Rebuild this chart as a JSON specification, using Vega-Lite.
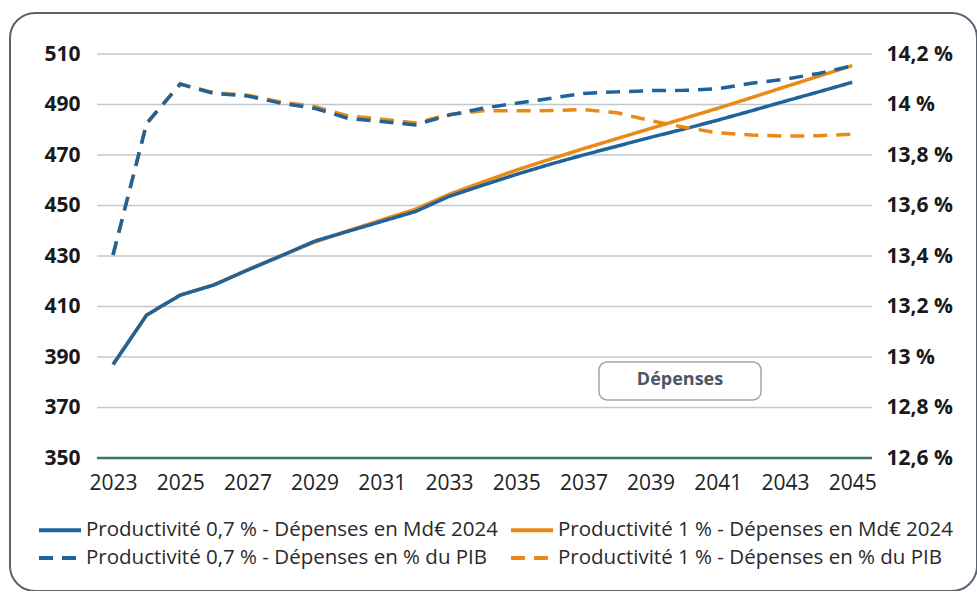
{
  "$schema": "https://vega.github.io/schema/vega-lite/v6.json",
  "width": 967,
  "height": 578,
  "autosize": {"type": "none"},
  "padding": {"left": 10, "top": 13, "right": 0, "bottom": 0},
  "background": "white",
  "config": {
    "font": "Open Sans",
    "view": {"stroke": "#5b6270", "strokeWidth": 2, "cornerRadius": 25, "fill": "white"},
    "legend": {
      "orient": "none", "legendX": 33, "legendY": 500, "title": null, "columns": 2,
      "symbolType": "M-1.4,0H1.4", "symbolSize": 900, "symbolStrokeWidth": 4,
      "labelFontSize": 20.5, "labelColor": "#2a2a2a", "labelOffset": 9, "rowPadding": 0, "columnPadding": 5, "labelLimit": 700
    }
  },
  "datasets": {
    "md": [
      {"year": 2023, "series": "Productivité 1 % - Dépenses en Md€ 2024", "value": 387},
      {"year": 2024, "series": "Productivité 1 % - Dépenses en Md€ 2024", "value": 406.6},
      {"year": 2025, "series": "Productivité 1 % - Dépenses en Md€ 2024", "value": 414.5},
      {"year": 2026, "series": "Productivité 1 % - Dépenses en Md€ 2024", "value": 418.6},
      {"year": 2027, "series": "Productivité 1 % - Dépenses en Md€ 2024", "value": 424.5},
      {"year": 2028, "series": "Productivité 1 % - Dépenses en Md€ 2024", "value": 430.2},
      {"year": 2029, "series": "Productivité 1 % - Dépenses en Md€ 2024", "value": 435.5},
      {"year": 2030, "series": "Productivité 1 % - Dépenses en Md€ 2024", "value": 440},
      {"year": 2031, "series": "Productivité 1 % - Dépenses en Md€ 2024", "value": 444.3},
      {"year": 2032, "series": "Productivité 1 % - Dépenses en Md€ 2024", "value": 448.5},
      {"year": 2033, "series": "Productivité 1 % - Dépenses en Md€ 2024", "value": 454.4},
      {"year": 2034, "series": "Productivité 1 % - Dépenses en Md€ 2024", "value": 459.3},
      {"year": 2035, "series": "Productivité 1 % - Dépenses en Md€ 2024", "value": 464},
      {"year": 2036, "series": "Productivité 1 % - Dépenses en Md€ 2024", "value": 468.3},
      {"year": 2037, "series": "Productivité 1 % - Dépenses en Md€ 2024", "value": 472.5},
      {"year": 2038, "series": "Productivité 1 % - Dépenses en Md€ 2024", "value": 476.5},
      {"year": 2039, "series": "Productivité 1 % - Dépenses en Md€ 2024", "value": 480.5},
      {"year": 2040, "series": "Productivité 1 % - Dépenses en Md€ 2024", "value": 484.5},
      {"year": 2041, "series": "Productivité 1 % - Dépenses en Md€ 2024", "value": 488.5},
      {"year": 2042, "series": "Productivité 1 % - Dépenses en Md€ 2024", "value": 492.7},
      {"year": 2043, "series": "Productivité 1 % - Dépenses en Md€ 2024", "value": 497},
      {"year": 2044, "series": "Productivité 1 % - Dépenses en Md€ 2024", "value": 501.2},
      {"year": 2045, "series": "Productivité 1 % - Dépenses en Md€ 2024", "value": 505.4},
      {"year": 2023, "series": "Productivité 0,7 % - Dépenses en Md€ 2024", "value": 387},
      {"year": 2024, "series": "Productivité 0,7 % - Dépenses en Md€ 2024", "value": 406.6},
      {"year": 2025, "series": "Productivité 0,7 % - Dépenses en Md€ 2024", "value": 414.5},
      {"year": 2026, "series": "Productivité 0,7 % - Dépenses en Md€ 2024", "value": 418.5},
      {"year": 2027, "series": "Productivité 0,7 % - Dépenses en Md€ 2024", "value": 424.4},
      {"year": 2028, "series": "Productivité 0,7 % - Dépenses en Md€ 2024", "value": 430},
      {"year": 2029, "series": "Productivité 0,7 % - Dépenses en Md€ 2024", "value": 435.9},
      {"year": 2030, "series": "Productivité 0,7 % - Dépenses en Md€ 2024", "value": 439.8},
      {"year": 2031, "series": "Productivité 0,7 % - Dépenses en Md€ 2024", "value": 443.7},
      {"year": 2032, "series": "Productivité 0,7 % - Dépenses en Md€ 2024", "value": 447.6},
      {"year": 2033, "series": "Productivité 0,7 % - Dépenses en Md€ 2024", "value": 453.6},
      {"year": 2034, "series": "Productivité 0,7 % - Dépenses en Md€ 2024", "value": 458},
      {"year": 2035, "series": "Productivité 0,7 % - Dépenses en Md€ 2024", "value": 462.3},
      {"year": 2036, "series": "Productivité 0,7 % - Dépenses en Md€ 2024", "value": 466.3},
      {"year": 2037, "series": "Productivité 0,7 % - Dépenses en Md€ 2024", "value": 470},
      {"year": 2038, "series": "Productivité 0,7 % - Dépenses en Md€ 2024", "value": 473.5},
      {"year": 2039, "series": "Productivité 0,7 % - Dépenses en Md€ 2024", "value": 477},
      {"year": 2040, "series": "Productivité 0,7 % - Dépenses en Md€ 2024", "value": 480.3},
      {"year": 2041, "series": "Productivité 0,7 % - Dépenses en Md€ 2024", "value": 483.8},
      {"year": 2042, "series": "Productivité 0,7 % - Dépenses en Md€ 2024", "value": 487.5},
      {"year": 2043, "series": "Productivité 0,7 % - Dépenses en Md€ 2024", "value": 491.3},
      {"year": 2044, "series": "Productivité 0,7 % - Dépenses en Md€ 2024", "value": 495},
      {"year": 2045, "series": "Productivité 0,7 % - Dépenses en Md€ 2024", "value": 498.8}
    ],
    "pct": [
      {"year": 2023, "series": "Productivité 1 % - Dépenses en % du PIB", "value": 13.404},
      {"year": 2024, "series": "Productivité 1 % - Dépenses en % du PIB", "value": 13.925},
      {"year": 2025, "series": "Productivité 1 % - Dépenses en % du PIB", "value": 14.081},
      {"year": 2026, "series": "Productivité 1 % - Dépenses en % du PIB", "value": 14.046},
      {"year": 2027, "series": "Productivité 1 % - Dépenses en % du PIB", "value": 14.037},
      {"year": 2028, "series": "Productivité 1 % - Dépenses en % du PIB", "value": 14.01},
      {"year": 2029, "series": "Productivité 1 % - Dépenses en % du PIB", "value": 13.992},
      {"year": 2030, "series": "Productivité 1 % - Dépenses en % du PIB", "value": 13.955},
      {"year": 2031, "series": "Productivité 1 % - Dépenses en % du PIB", "value": 13.942},
      {"year": 2032, "series": "Productivité 1 % - Dépenses en % du PIB", "value": 13.927},
      {"year": 2033, "series": "Productivité 1 % - Dépenses en % du PIB", "value": 13.96},
      {"year": 2034, "series": "Productivité 1 % - Dépenses en % du PIB", "value": 13.975},
      {"year": 2035, "series": "Productivité 1 % - Dépenses en % du PIB", "value": 13.975},
      {"year": 2036, "series": "Productivité 1 % - Dépenses en % du PIB", "value": 13.976},
      {"year": 2037, "series": "Productivité 1 % - Dépenses en % du PIB", "value": 13.98},
      {"year": 2038, "series": "Productivité 1 % - Dépenses en % du PIB", "value": 13.967},
      {"year": 2039, "series": "Productivité 1 % - Dépenses en % du PIB", "value": 13.936},
      {"year": 2040, "series": "Productivité 1 % - Dépenses en % du PIB", "value": 13.91},
      {"year": 2041, "series": "Productivité 1 % - Dépenses en % du PIB", "value": 13.888},
      {"year": 2042, "series": "Productivité 1 % - Dépenses en % du PIB", "value": 13.879},
      {"year": 2043, "series": "Productivité 1 % - Dépenses en % du PIB", "value": 13.875},
      {"year": 2044, "series": "Productivité 1 % - Dépenses en % du PIB", "value": 13.876},
      {"year": 2045, "series": "Productivité 1 % - Dépenses en % du PIB", "value": 13.883},
      {"year": 2023, "series": "Productivité 0,7 % - Dépenses en % du PIB", "value": 13.404},
      {"year": 2024, "series": "Productivité 0,7 % - Dépenses en % du PIB", "value": 13.925},
      {"year": 2025, "series": "Productivité 0,7 % - Dépenses en % du PIB", "value": 14.081},
      {"year": 2026, "series": "Productivité 0,7 % - Dépenses en % du PIB", "value": 14.044},
      {"year": 2027, "series": "Productivité 0,7 % - Dépenses en % du PIB", "value": 14.034},
      {"year": 2028, "series": "Productivité 0,7 % - Dépenses en % du PIB", "value": 14.005},
      {"year": 2029, "series": "Productivité 0,7 % - Dépenses en % du PIB", "value": 13.985},
      {"year": 2030, "series": "Productivité 0,7 % - Dépenses en % du PIB", "value": 13.945},
      {"year": 2031, "series": "Productivité 0,7 % - Dépenses en % du PIB", "value": 13.933},
      {"year": 2032, "series": "Productivité 0,7 % - Dépenses en % du PIB", "value": 13.919},
      {"year": 2033, "series": "Productivité 0,7 % - Dépenses en % du PIB", "value": 13.958},
      {"year": 2034, "series": "Productivité 0,7 % - Dépenses en % du PIB", "value": 13.985},
      {"year": 2035, "series": "Productivité 0,7 % - Dépenses en % du PIB", "value": 14.005},
      {"year": 2036, "series": "Productivité 0,7 % - Dépenses en % du PIB", "value": 14.024},
      {"year": 2037, "series": "Productivité 0,7 % - Dépenses en % du PIB", "value": 14.044},
      {"year": 2038, "series": "Productivité 0,7 % - Dépenses en % du PIB", "value": 14.05},
      {"year": 2039, "series": "Productivité 0,7 % - Dépenses en % du PIB", "value": 14.055},
      {"year": 2040, "series": "Productivité 0,7 % - Dépenses en % du PIB", "value": 14.056},
      {"year": 2041, "series": "Productivité 0,7 % - Dépenses en % du PIB", "value": 14.062},
      {"year": 2042, "series": "Productivité 0,7 % - Dépenses en % du PIB", "value": 14.084},
      {"year": 2043, "series": "Productivité 0,7 % - Dépenses en % du PIB", "value": 14.1},
      {"year": 2044, "series": "Productivité 0,7 % - Dépenses en % du PIB", "value": 14.123},
      {"year": 2045, "series": "Productivité 0,7 % - Dépenses en % du PIB", "value": 14.153}
    ],
    "grid": [
      {"value": 370}, {"value": 390}, {"value": 410}, {"value": 430},
      {"value": 450}, {"value": 470}, {"value": 490}, {"value": 510}
    ],
    "note": [{"label": "Dépenses"}]
  },
  "layer": [
    {
      "layer": [
        {
          "data": {"name": "grid"},
          "mark": {"type": "rule", "color": "#c3c7cf", "strokeWidth": 1.5},
          "encoding": {
            "y": {
              "field": "value", "type": "quantitative",
              "scale": {"domain": [297.327, 526.238], "nice": false, "zero": false},
              "axis": {
                "orient": "left", "offset": -87, "title": null, "values": [350, 370, 390, 410, 430, 450, 470, 490, 510],
                "domain": false, "ticks": false, "tickSize": 0, "grid": false,
                "labelFontSize": 21, "labelFontWeight": "bold", "labelColor": "#1a1a1a", "labelPadding": 17
              }
            },
            "x": {
              "datum": 2022.524, "type": "quantitative",
              "scale": {"domain": [2019.934, 2048.714], "nice": false, "zero": false},
              "axis": {
                "orient": "bottom", "offset": -133, "title": null, "values": [2023, 2025, 2027, 2029, 2031, 2033, 2035, 2037, 2039, 2041, 2043, 2045],
                "format": "d", "domain": false, "ticks": false, "tickSize": 0, "grid": false,
                "labelFontSize": 21, "labelColor": "#222222", "labelPadding": 14
              }
            },
            "x2": {"datum": 2045.589}
          }
        },
        {
          "data": {"name": "note"},
          "mark": {"type": "rule", "color": "#3f7370", "strokeWidth": 2.5},
          "encoding": {
            "y": {"datum": 350, "type": "quantitative"},
            "x": {"datum": 2022.524, "type": "quantitative"},
            "x2": {"datum": 2045.589}
          }
        },
        {
          "data": {"name": "md"},
          "mark": {"type": "line", "strokeWidth": 3.5},
          "encoding": {
            "x": {"field": "year", "type": "quantitative"},
            "y": {"field": "value", "type": "quantitative"},
            "color": {
              "field": "series", "type": "nominal",
              "scale": {
                "domain": ["Productivité 0,7 % - Dépenses en Md€ 2024", "Productivité 0,7 % - Dépenses en % du PIB", "Productivité 1 % - Dépenses en Md€ 2024", "Productivité 1 % - Dépenses en % du PIB"],
                "range": ["#1f639b", "#1f639b", "#e98a15", "#e98a15"]
              }
            },
            "strokeDash": {
              "field": "series", "type": "nominal",
              "scale": {
                "domain": ["Productivité 0,7 % - Dépenses en Md€ 2024", "Productivité 0,7 % - Dépenses en % du PIB", "Productivité 1 % - Dépenses en Md€ 2024", "Productivité 1 % - Dépenses en % du PIB"],
                "range": [[1, 0], [14, 9], [1, 0], [14, 9]]
              }
            }
          }
        },
        {
          "data": {"name": "note"},
          "mark": {"type": "rect", "fill": "white", "stroke": "#9ea6b3", "strokeWidth": 1.5, "cornerRadius": 8},
          "encoding": {
            "x": {"datum": 2037.464, "type": "quantitative"},
            "x2": {"datum": 2042.286},
            "y": {"datum": 388.0, "type": "quantitative"},
            "y2": {"datum": 373.0}
          }
        },
        {
          "data": {"name": "note"},
          "mark": {"type": "text", "fontSize": 18, "fontWeight": "bold", "color": "#4b5565", "align": "center", "baseline": "middle"},
          "encoding": {
            "x": {"datum": 2039.875, "type": "quantitative"},
            "y": {"datum": 380.8, "type": "quantitative"},
            "text": {"field": "label"}
          }
        }
      ]
    },
    {
      "data": {"name": "pct"},
      "mark": {"type": "line", "strokeWidth": 3.5},
      "encoding": {
        "x": {"field": "year", "type": "quantitative"},
        "y": {
          "field": "value", "type": "quantitative",
          "scale": {"domain": [12.07327, 14.36238], "nice": false, "zero": false},
          "axis": {
            "orient": "right", "offset": -105, "title": null, "values": [12.6, 12.8, 13, 13.2, 13.4, 13.6, 13.8, 14, 14.2],
            "labelExpr": "replace(format(datum.value, '.1~f'), '.', ',') + ' %'",
            "domain": false, "ticks": false, "tickSize": 0, "grid": false,
            "labelFontSize": 21, "labelFontWeight": "bold", "labelColor": "#1a1a1a", "labelPadding": 14
          }
        },
        "color": {
          "field": "series", "type": "nominal",
          "scale": {
            "domain": ["Productivité 0,7 % - Dépenses en Md€ 2024", "Productivité 0,7 % - Dépenses en % du PIB", "Productivité 1 % - Dépenses en Md€ 2024", "Productivité 1 % - Dépenses en % du PIB"],
            "range": ["#1f639b", "#1f639b", "#e98a15", "#e98a15"]
          }
        },
        "strokeDash": {
          "field": "series", "type": "nominal",
          "scale": {
            "domain": ["Productivité 0,7 % - Dépenses en Md€ 2024", "Productivité 0,7 % - Dépenses en % du PIB", "Productivité 1 % - Dépenses en Md€ 2024", "Productivité 1 % - Dépenses en % du PIB"],
            "range": [[1, 0], [14, 9], [1, 0], [14, 9]]
          }
        }
      }
    }
  ],
  "resolve": {"scale": {"y": "independent"}}
}
